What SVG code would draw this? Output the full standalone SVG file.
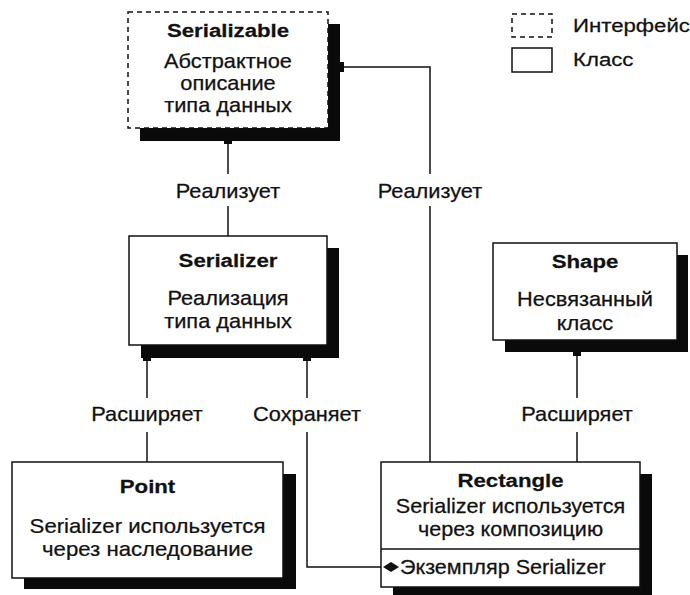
<svg xmlns="http://www.w3.org/2000/svg" width="690" height="595" viewBox="0 0 690 595">
  <style>
    .box { fill: #fff; stroke: #111; stroke-width: 1.5; }
    .iface { stroke-dasharray: 5 4; }
    .shadow { fill: #0a0a0a; }
    .tab { fill: #0a0a0a; }
    .line { fill: none; stroke: #111; stroke-width: 1.5; }
    text { font-family: "Liberation Sans", Arial, Helvetica, sans-serif; font-size: 20px; fill: #111; stroke: #111; stroke-width: 0.25; }
    .title { font-size: 19px; font-weight: bold; text-anchor: middle; }
    .body { text-anchor: middle; }
    .lbl { text-anchor: middle; }
    .key { font-size: 19px; }
  </style>

  <!-- connectors -->
  <g id="connectors">
    <!-- Serializer realizes Serializable -->
    <line class="line" x1="228" y1="140" x2="228" y2="174"/>
    <line class="line" x1="228" y1="206" x2="228" y2="236"/>
    <rect class="tab" x="224" y="139" width="8" height="5"/>
    <text class="lbl" transform="translate(228 198) scale(1.09 1)">Реализует</text>

    <!-- Rectangle realizes Serializable -->
    <polyline class="line" points="340,67 430,67 430,174"/>
    <line class="line" x1="430" y1="206" x2="430" y2="462"/>
    <rect class="tab" x="339" y="62" width="5" height="10"/>
    <text class="lbl" transform="translate(430 198) scale(1.09 1)">Реализует</text>

    <!-- Point extends Serializer -->
    <line class="line" x1="147" y1="357" x2="147" y2="398"/>
    <line class="line" x1="147" y1="432" x2="147" y2="462"/>
    <rect class="tab" x="143" y="356" width="8" height="5"/>
    <text class="lbl" transform="translate(147 421) scale(1.09 1)">Расширяет</text>

    <!-- Rectangle holds a Serializer -->
    <line class="line" x1="307" y1="357" x2="307" y2="398"/>
    <polyline class="line" points="307,432 307,567 383,567"/>
    <rect class="tab" x="303" y="356" width="8" height="5"/>
    <text class="lbl" transform="translate(307 421) scale(1.09 1)">Сохраняет</text>

    <!-- Rectangle extends Shape -->
    <line class="line" x1="577" y1="352" x2="577" y2="398"/>
    <line class="line" x1="577" y1="432" x2="577" y2="462"/>
    <rect class="tab" x="573" y="351" width="8" height="5"/>
    <text class="lbl" transform="translate(577 421) scale(1.09 1)">Расширяет</text>
  </g>

  <!-- interface -->
  <g id="serializable">
    <rect class="shadow" x="140" y="24" width="200" height="117"/>
    <rect class="box iface" x="128" y="12" width="200" height="116"/>
    <text class="title" transform="translate(228 37) scale(1.17 1)">Serializable</text>
    <text class="body" transform="translate(228 68) scale(1.09 1)">Абстрактное</text>
    <text class="body" transform="translate(228 90) scale(1.09 1)">описание</text>
    <text class="body" transform="translate(228 112) scale(1.09 1)">типа данных</text>
  </g>

  <g id="serializer">
    <rect class="shadow" x="141" y="248" width="198" height="110"/>
    <rect class="box" x="129" y="236" width="198" height="109"/>
    <text class="title" transform="translate(228 267) scale(1.17 1)">Serializer</text>
    <text class="body" transform="translate(228 305) scale(1.09 1)">Реализация</text>
    <text class="body" transform="translate(228 328) scale(1.09 1)">типа данных</text>
  </g>

  <g id="shape">
    <rect class="shadow" x="505" y="255" width="183" height="97"/>
    <rect class="box" x="493" y="243" width="184" height="97"/>
    <text class="title" transform="translate(585 268) scale(1.17 1)">Shape</text>
    <text class="body" transform="translate(585 306) scale(1.09 1)">Несвязанный</text>
    <text class="body" transform="translate(585 330) scale(1.09 1)">класс</text>
  </g>

  <g id="point">
    <rect class="shadow" x="24" y="474" width="272" height="115"/>
    <rect class="box" x="12" y="462" width="271" height="116"/>
    <text class="title" transform="translate(147.5 493) scale(1.17 1)">Point</text>
    <text class="body" transform="translate(147.5 533) scale(1.11 1)">Serializer используется</text>
    <text class="body" transform="translate(147.5 556) scale(1.11 1)">через наследование</text>
  </g>

  <g id="rectangle">
    <rect class="shadow" x="393" y="474" width="259" height="125"/>
    <rect class="box" x="381" y="462" width="259" height="125"/>
    <line class="line" x1="381" y1="549" x2="640" y2="549"/>
    <text class="title" transform="translate(510.5 487) scale(1.17 1)">Rectangle</text>
    <text class="body" transform="translate(510.5 513) scale(1.08 1)">Serializer используется</text>
    <text class="body" transform="translate(510.5 536) scale(1.08 1)">через композицию</text>
    <polygon points="383,567 391,562 399,567 391,572" fill="#111"/>
    <text transform="translate(400 574) scale(1.08 1)">Экземпляр Serializer</text>
  </g>

  <!-- key -->
  <g id="legend">
    <rect class="box iface" x="512" y="14" width="40" height="23"/>
    <text class="key" transform="translate(573 32) scale(1.17 1)">Интерфейс</text>
    <rect class="box" x="512" y="48" width="40" height="24"/>
    <text class="key" transform="translate(573 66) scale(1.17 1)">Класс</text>
  </g>
</svg>
